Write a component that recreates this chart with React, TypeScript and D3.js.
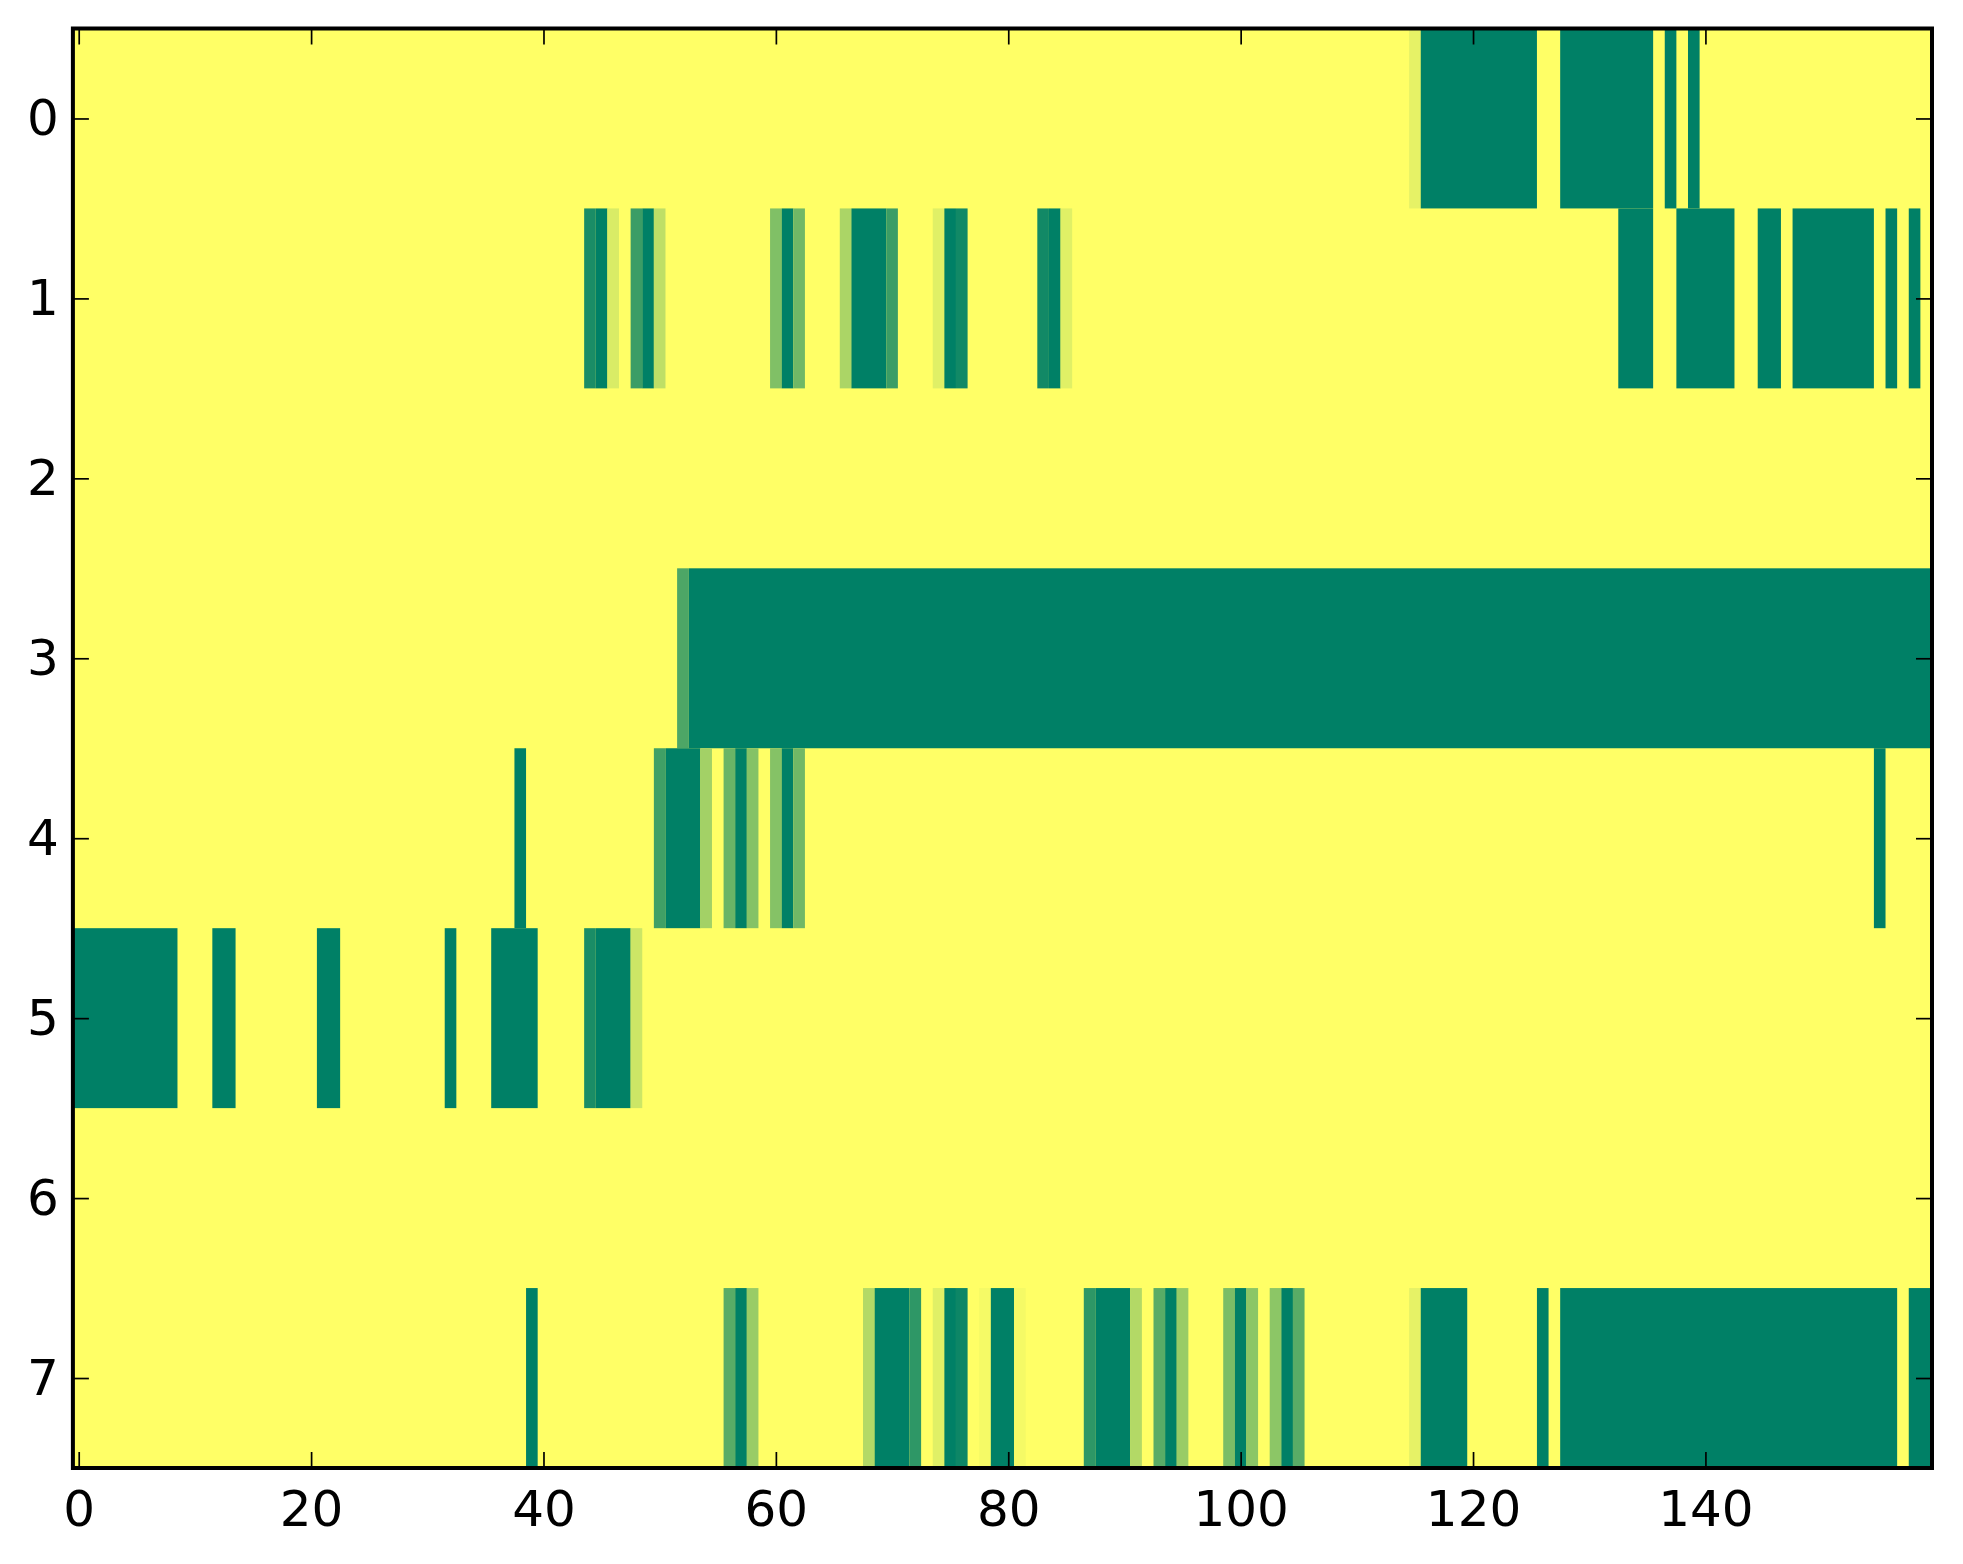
import * as React from "react";
import * as d3 from "d3";

// 8 rows x 160 columns, values 0..1 on the "summer" colour map (1 = yellow).
// Each row lists the runs that are not 1: [firstCol, lastCol, value]
const nCols = 160;
const rowLabels = [0, 1, 2, 3, 4, 5, 6, 7];
const xTickValues = [0, 20, 40, 60, 80, 100, 120, 140];

const row0 = [[115, 115, 0.9], [116, 125, 0], [128, 135, 0], [137, 137, 0], [139, 139, 0]];
const row1 = [
    [44, 44, 0.1], [45, 45, 0], [46, 46, 0.85], [48, 48, 0.23], [49, 49, 0], [50, 50, 0.75],
    [60, 60, 0.5], [61, 61, 0], [62, 62, 0.44], [66, 66, 0.67], [67, 69, 0], [70, 70, 0.23],
    [74, 74, 0.88], [75, 75, 0], [76, 76, 0.07], [83, 83, 0.07], [84, 84, 0], [85, 85, 0.88],
    [133, 135, 0], [138, 142, 0], [145, 146, 0], [148, 154, 0], [156, 156, 0], [158, 158, 0]
];
const row2: number[][] = [];
const row3 = [[52, 52, 0.3], [53, 159, 0]];
const row4 = [
    [38, 38, 0], [50, 50, 0.25], [51, 53, 0], [54, 54, 0.64], [56, 56, 0.41], [57, 57, 0],
    [58, 58, 0.52], [60, 60, 0.52], [61, 61, 0], [62, 62, 0.44], [155, 155, 0]
];
const row5 = [
    [0, 8, 0], [12, 13, 0], [21, 22, 0], [32, 32, 0], [36, 39, 0],
    [44, 44, 0.1], [45, 47, 0], [48, 48, 0.8]
];
const row6: number[][] = [];
const row7 = [
    [39, 39, 0], [56, 56, 0.35], [57, 57, 0], [58, 58, 0.6], [68, 68, 0.7], [69, 71, 0],
    [72, 72, 0.18], [74, 74, 0.88], [75, 75, 0], [76, 76, 0.05], [78, 78, 0.96], [79, 80, 0],
    [81, 81, 0.96], [87, 87, 0.18], [88, 90, 0], [91, 91, 0.7], [93, 93, 0.35], [94, 94, 0],
    [95, 95, 0.6], [99, 99, 0.48], [100, 100, 0], [101, 101, 0.55], [103, 103, 0.55],
    [104, 104, 0], [105, 105, 0.35], [115, 115, 0.9], [116, 119, 0], [126, 126, 0],
    [128, 156, 0], [158, 159, 0]
];
const rows = [row0, row1, row2, row3, row4, row5, row6, row7];

const W = 1963, H = 1564;
const left = 72.9, right = 1932, top = 28.5, bottom = 1468;

export default function App() {
    const ref = React.useRef<SVGSVGElement>(null);

    React.useEffect(() => {
        const svg = d3.select(ref.current);
        svg.selectAll("*").remove();

        // full grid from the runs
        const grid = rows.map(r => {
            const line = new Array(nCols).fill(1);
            r.forEach(([a, b, v]) => { for (let c = a; c <= b; c++) line[c] = v; });
            return line;
        });

        const x = d3.scaleLinear().domain([-0.5, nCols - 0.5]).range([left, right]);
        const y = d3.scaleLinear().domain([-0.5, rowLabels.length - 0.5]).range([top, bottom]);
        const color = d3.scaleLinear<string>().domain([0, 1]).range(["#008066", "#ffff66"]);

        // background = value 1, so only the other cells need drawing
        svg.append("rect")
            .attr("x", left).attr("y", top)
            .attr("width", right - left).attr("height", bottom - top)
            .attr("fill", color(1));

        // merge equal neighbours so adjacent cells have no seams
        const runs: { row: number, c0: number, c1: number, v: number }[] = [];
        grid.forEach((line, row) => {
            let c0 = 0;
            for (let c = 1; c <= nCols; c++) {
                if (c === nCols || line[c] !== line[c0]) {
                    if (line[c0] !== 1) runs.push({ row, c0, c1: c - 1, v: line[c0] });
                    c0 = c;
                }
            }
        });

        svg.append("g")
            .selectAll("rect")
            .data(runs)
            .enter().append("rect")
            .attr("x", d => x(d.c0 - 0.5))
            .attr("y", d => y(d.row - 0.5))
            .attr("width", d => x(d.c1 + 0.5) - x(d.c0 - 0.5))
            .attr("height", d => y(d.row + 0.5) - y(d.row - 0.5))
            .attr("fill", d => color(d.v));

        const tick = 16;
        const styleAxis = (g: any) => {
            g.select(".domain").remove();
            g.attr("font-family", "'DejaVu Sans', sans-serif").attr("font-size", 50);
            g.selectAll("line").attr("stroke", "#000").attr("stroke-width", 1.7);
            g.selectAll("text").attr("fill", "#000");
        };

        svg.append("g")
            .attr("transform", `translate(0,${bottom})`)
            .call(d3.axisBottom(x).tickValues(xTickValues).tickSize(-tick).tickPadding(22))
            .call(styleAxis);
        svg.append("g")
            .attr("transform", `translate(0,${top})`)
            .call(d3.axisTop(x).tickValues(xTickValues).tickSize(-tick).tickFormat(() => ""))
            .call(styleAxis);
        svg.append("g")
            .attr("transform", `translate(${left},0)`)
            .call(d3.axisLeft(y).tickValues(rowLabels).tickSize(-tick).tickPadding(14))
            .call(styleAxis);
        svg.append("g")
            .attr("transform", `translate(${right},0)`)
            .call(d3.axisRight(y).tickValues(rowLabels).tickSize(-tick).tickFormat(() => ""))
            .call(styleAxis);

        svg.append("rect")
            .attr("x", left).attr("y", top)
            .attr("width", right - left).attr("height", bottom - top)
            .attr("fill", "none")
            .attr("stroke", "#000")
            .attr("stroke-width", 4);
    }, []);

    return <svg ref={ref} width={W} height={H}
        style={{ position: "absolute", left: 0, top: 0, background: "#fff" }}></svg>;
}
